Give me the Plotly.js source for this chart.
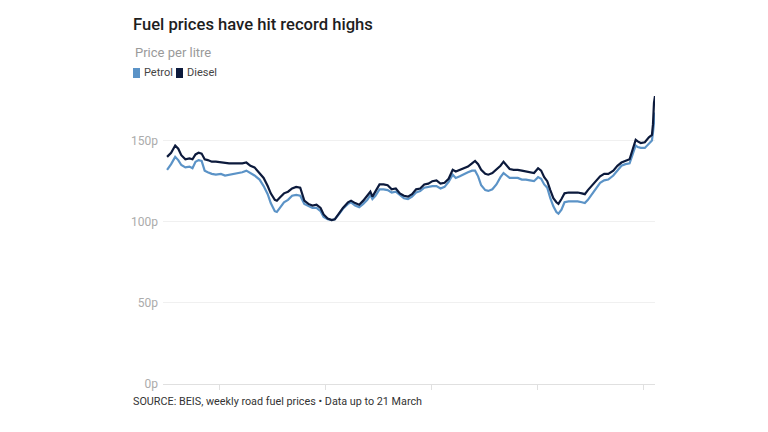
<!DOCTYPE html>
<html>
<head>
<meta charset="utf-8">
<script src="https://cdn.plot.ly/plotly-3.0.1.min.js"></script>
<style>html,body{margin:0;padding:0;background:#fff;}#chart{width:768px;height:432px;}</style>
</head>
<body>
<div id="chart"></div>
<script>
const dates = [
"2013-01-07","2013-02-04","2013-03-04","2013-03-25","2013-04-15","2013-05-13","2013-06-10","2013-07-01","2013-07-22","2013-08-12",
"2013-09-02","2013-09-23","2013-10-14","2013-11-11","2013-12-09","2014-01-13","2014-02-10","2014-03-10","2014-04-14","2014-05-12",
"2014-06-09","2014-07-07","2014-08-04","2014-09-01","2014-10-06","2014-11-03","2014-12-01","2014-12-22","2015-01-19","2015-02-02",
"2015-02-23","2015-03-23","2015-04-20","2015-05-18","2015-06-15","2015-07-13","2015-08-10","2015-09-07","2015-10-05","2015-11-02",
"2015-11-30","2015-12-21","2016-01-18","2016-02-15","2016-03-07","2016-04-04","2016-05-02","2016-06-06","2016-06-27","2016-07-25",
"2016-08-22","2016-09-19","2016-10-17","2016-11-07","2016-11-21","2016-12-12","2017-01-09","2017-02-06","2017-03-06","2017-04-03",
"2017-05-01","2017-05-29","2017-06-26","2017-07-24","2017-08-21","2017-09-18","2017-10-16","2017-11-13","2017-12-11","2018-01-08",
"2018-02-05","2018-03-05","2018-04-02","2018-04-30","2018-05-28","2018-06-18","2018-07-16","2018-08-13","2018-09-10","2018-10-08",
"2018-10-29","2018-11-19","2018-12-10","2019-01-07","2019-01-28","2019-02-25","2019-03-25","2019-04-22","2019-05-13","2019-06-03",
"2019-06-24","2019-07-22","2019-08-19","2019-09-16","2019-10-14","2019-11-11","2019-12-09","2020-01-06","2020-01-27","2020-02-17",
"2020-03-09","2020-03-30","2020-04-20","2020-05-11","2020-05-25","2020-06-15","2020-07-06","2020-08-03","2020-09-07","2020-10-05",
"2020-11-02","2020-11-23","2020-12-14","2021-01-11","2021-02-08","2021-03-08","2021-04-05","2021-05-03","2021-06-07","2021-07-05",
"2021-08-02","2021-08-30","2021-09-27","2021-10-18","2021-11-08","2021-11-22","2021-12-13","2022-01-10","2022-02-07","2022-02-28",
"2022-03-07","2022-03-14","2022-03-21"
];
const petrol = [
132.0,135.5,140.0,138.0,135.0,133.5,134.0,133.0,137.0,138.0,
137.5,131.5,130.5,129.5,129.0,129.5,128.5,129.0,129.5,130.0,
130.5,131.5,130.0,128.5,126.0,122.0,117.0,111.5,106.5,106.0,
108.5,112.0,113.5,116.0,116.5,116.0,111.0,110.0,108.5,108.5,
106.5,103.0,101.5,101.0,101.5,104.5,108.0,111.0,112.0,110.0,
109.0,111.0,113.5,116.5,114.0,116.0,120.0,120.0,119.5,118.0,
118.5,116.5,114.5,114.0,115.5,118.0,119.0,121.0,121.5,122.0,
122.0,120.5,121.5,124.5,129.0,127.0,128.0,129.5,130.5,131.5,
131.5,128.0,122.5,119.5,119.0,120.0,123.0,127.5,130.0,128.5,
127.0,127.0,127.0,126.0,126.0,125.5,125.0,127.5,126.5,123.0,
121.0,114.5,109.5,106.0,105.0,107.5,112.0,112.5,112.5,112.5,
112.0,111.5,113.5,117.0,120.0,124.0,125.5,126.0,128.5,131.5,
134.5,135.5,136.0,141.5,147.0,146.0,145.5,145.5,148.0,150.0,
155.0,163.7,167.3
];
const diesel = [
140.0,142.5,147.0,145.0,141.0,138.5,139.0,138.5,141.5,142.5,
142.0,138.5,138.0,137.0,137.0,136.5,136.0,136.0,136.0,136.0,
136.0,136.5,134.5,133.5,130.0,127.0,122.0,117.5,113.5,113.0,
115.0,117.5,118.5,120.5,121.5,121.0,113.0,111.0,110.0,110.5,
108.5,104.5,102.0,101.0,101.5,105.0,108.5,112.0,113.0,111.5,
110.5,113.0,116.0,118.5,115.5,118.5,123.0,123.0,122.5,120.0,
120.5,117.5,116.0,115.5,117.0,120.0,120.5,123.0,123.5,125.0,
125.5,123.5,124.0,126.5,132.0,131.0,132.0,133.0,134.0,136.0,
137.5,135.5,132.0,129.5,129.0,130.0,132.0,134.5,137.0,135.0,
132.5,132.0,132.0,131.5,131.0,130.5,130.0,133.0,131.5,127.5,
125.0,119.5,114.5,112.0,111.0,114.0,117.5,118.0,118.0,118.0,
117.5,117.0,119.5,122.5,125.0,128.0,129.5,129.5,131.5,134.5,
136.5,137.5,138.5,144.5,150.5,149.5,148.5,149.0,152.0,153.5,
160.0,173.2,177.5
];
const seriesNames = ["Petrol", "Diesel"];
const seriesColors = ["#5b93c7", "#0c1a3c"];
const yTicks = [0, 50, 100, 150];
const yTickLabels = ["0p", "50p", "100p", "150p"];
const titleText = "Fuel prices have hit record highs";
const subtitleText = "Price per litre";
const sourceText = "SOURCE: BEIS, weekly road fuel prices \u2022 Data up to 21 March";

const FONT = "Roboto, 'Open Sans', sans-serif";
// pixel -> paper helpers (plot area 163..655 x, 96..384 y)
const L = 163, R = 655, T = 96, B = 384;
const px = v => (v - L) / (R - L);
const py = v => (B - v) / (B - T);

const traces = [
  {x: dates, y: petrol, type: "scatter", mode: "lines", name: seriesNames[0],
   line: {color: seriesColors[0], width: 2.2}, hoverinfo: "skip"},
  {x: dates, y: diesel, type: "scatter", mode: "lines", name: seriesNames[1],
   line: {color: seriesColors[1], width: 2.2}, hoverinfo: "skip"}
];

const layout = {
  width: 768, height: 432,
  margin: {l: L, r: 768 - R, t: T, b: 432 - B, pad: 0},
  paper_bgcolor: "#fff", plot_bgcolor: "#fff",
  showlegend: false,
  font: {family: FONT, color: "#333"},
  title: {text: titleText, x: 133 / 768, xref: "container", xanchor: "left",
          y: 1 - 24 / 432, yref: "container", yanchor: "middle",
          font: {family: FONT, size: 16.6, color: "#1e1e1e", weight: 500}},
  xaxis: {type: "date", range: ["2012-12-10", "2022-03-21"],
          tick0: "2014-01-01", dtick: "M24", showticklabels: false,
          ticks: "outside", ticklen: 5, tickcolor: "#e0e0e0", tickwidth: 1,
          showline: true, linecolor: "#e0e0e0", linewidth: 1,
          showgrid: false, zeroline: false, fixedrange: true},
  yaxis: {range: [0, 177.5], tickmode: "array", tickvals: yTicks, ticktext: yTickLabels,
          tickfont: {family: FONT, size: 12, color: "#ababab"},
          showgrid: true, gridcolor: "#f0f0f0", gridwidth: 1,
          zeroline: false, showline: false, ticks: "", ticklabelstandoff: 4, fixedrange: true},
  shapes: [
    {type: "rect", xref: "paper", yref: "paper", x0: px(133), x1: px(140), y0: py(78), y1: py(68),
     fillcolor: seriesColors[0], line: {width: 0}},
    {type: "rect", xref: "paper", yref: "paper", x0: px(176), x1: px(183), y0: py(78), y1: py(68),
     fillcolor: seriesColors[1], line: {width: 0}}
  ],
  annotations: [
    {text: subtitleText, xref: "paper", yref: "paper", x: px(133), y: py(53),
     xanchor: "left", yanchor: "middle", showarrow: false,
     font: {family: FONT, size: 13, color: "#9a9a9a"}},
    {text: seriesNames[0], xref: "paper", yref: "paper", x: px(142), y: py(73),
     xanchor: "left", yanchor: "middle", showarrow: false,
     font: {family: FONT, size: 11, color: "#444"}},
    {text: seriesNames[1], xref: "paper", yref: "paper", x: px(185), y: py(73),
     xanchor: "left", yanchor: "middle", showarrow: false,
     font: {family: FONT, size: 11, color: "#444"}},
    {text: sourceText, xref: "paper", yref: "paper", x: px(131), y: py(401),
     xanchor: "left", yanchor: "middle", showarrow: false,
     font: {family: FONT, size: 10.8, color: "#333"}}
  ]
};

Plotly.newPlot("chart", traces, layout, {staticPlot: true, displayModeBar: false});
</script>
</body>
</html>
